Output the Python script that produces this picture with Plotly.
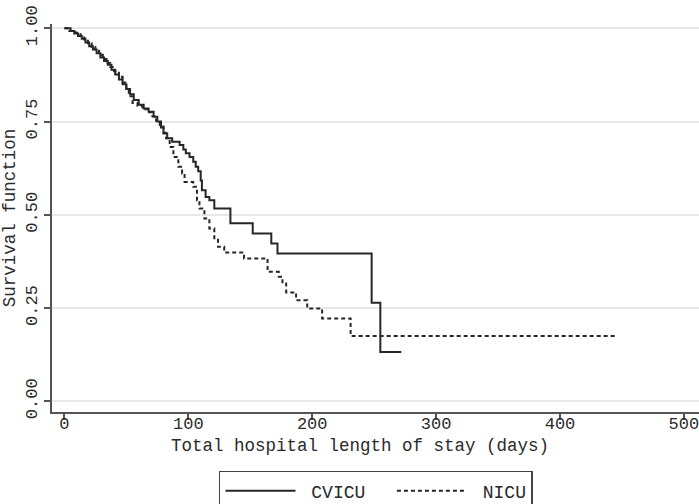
import plotly.graph_objects as go

# Kaplan-Meier step estimates: event times (days) and survival after each step
cvicu_time = [0, 5, 8, 11, 14, 17, 20, 23, 26, 29, 32, 35, 38, 41, 44, 47, 50, 53,
              56, 60, 64, 68, 72, 75, 78, 80, 83, 87, 93, 96, 98, 101, 104, 106,
              108, 110, 111, 114, 117, 121, 134, 152, 167, 172, 248, 255, 272]
cvicu_surv = [1.0, 0.993, 0.986, 0.979, 0.972, 0.962, 0.952, 0.943, 0.933, 0.922,
              0.912, 0.902, 0.889, 0.876, 0.863, 0.850, 0.837, 0.823, 0.808, 0.795,
              0.785, 0.776, 0.763, 0.750, 0.734, 0.718, 0.705, 0.696, 0.687, 0.675,
              0.665, 0.655, 0.642, 0.629, 0.617, 0.592, 0.566, 0.548, 0.539, 0.517,
              0.477, 0.450, 0.423, 0.396, 0.264, 0.132, 0.132]

nicu_time = [0, 4, 9, 13, 16, 19, 22, 25, 28, 31, 34, 37, 40, 44, 47, 50, 52, 55,
             59, 63, 67, 71, 74, 77, 80, 82, 85, 88, 92, 95, 97, 104, 107, 109,
             113, 117, 121, 124, 129, 145, 164, 173, 176, 179, 187, 196, 208, 231, 446]
nicu_surv = [1.0, 0.993, 0.988, 0.980, 0.970, 0.960, 0.950, 0.940, 0.929, 0.918,
             0.907, 0.896, 0.885, 0.870, 0.855, 0.838, 0.818, 0.800, 0.792, 0.783,
             0.775, 0.764, 0.752, 0.737, 0.720, 0.705, 0.682, 0.655, 0.629, 0.611,
             0.588, 0.575, 0.539, 0.517, 0.490, 0.463, 0.437, 0.414, 0.399, 0.383,
             0.347, 0.334, 0.316, 0.292, 0.271, 0.249, 0.222, 0.175, 0.175]

x_ticks = [0, 100, 200, 300, 400, 500]
y_ticks = [0.0, 0.25, 0.5, 0.75, 1.0]
y_tick_text = ["0.00", "0.25", "0.50", "0.75", "1.00"]

FONT = "Liberation Mono, Courier New, monospace"
INK = "#2a2a2a"
NBSP = "\u00a0"

fig = go.Figure()
fig.add_trace(go.Scatter(
    x=cvicu_time, y=cvicu_surv, name=NBSP + "CVICU" + NBSP * 2, mode="lines",
    line=dict(shape="hv", color="#262626", width=2),
))
fig.add_trace(go.Scatter(
    x=nicu_time, y=nicu_surv, name=NBSP + "NICU", mode="lines",
    line=dict(shape="hv", color="#262626", width=2, dash="4px,3px"),
))

fig.update_layout(
    width=699, height=504,
    margin=dict(l=52, r=0, t=24, b=92),
    paper_bgcolor="white", plot_bgcolor="white",
    font=dict(family=FONT, size=17, color=INK),
    showlegend=True,
    legend=dict(
        orientation="h", xref="container", yref="container",
        x=0.3133, y=0.0655, xanchor="left", yanchor="top",
        bordercolor="#444", borderwidth=1.5, bgcolor="white",
        font=dict(family=FONT, size=18, color=INK),
        itemwidth=70, tracegroupgap=0,
    ),
    xaxis=dict(
        range=[-10, 512.2], tickvals=x_ticks, ticks="outside", ticklen=6,
        tickcolor="#555", tickwidth=1.5, showline=True, linecolor="#555",
        linewidth=1.5, showgrid=False, zeroline=False,
        ticklabeloverflow="allow", ticklabelstandoff=-11,
    ),
    yaxis=dict(
        range=[-0.0287, 1.0115], tickvals=y_ticks, ticktext=y_tick_text,
        tickangle=-90, ticks="outside", ticklen=6, tickcolor="#555",
        tickwidth=1.5, showline=True, linecolor="#555", linewidth=1.5,
        showgrid=True, gridcolor="#e8e8e8", gridwidth=1.5, zeroline=False,
        title=dict(text="Survival function", standoff=4, font=dict(size=17.5)),
    ),
    annotations=[dict(
        text="Total hospital length of stay (days)", xref="paper", yref="paper",
        x=0.476, y=-0.0885, xanchor="center", yanchor="middle", showarrow=False,
        font=dict(family=FONT, size=17.5, color=INK),
    )],
)

fig.write_html("out.html")
